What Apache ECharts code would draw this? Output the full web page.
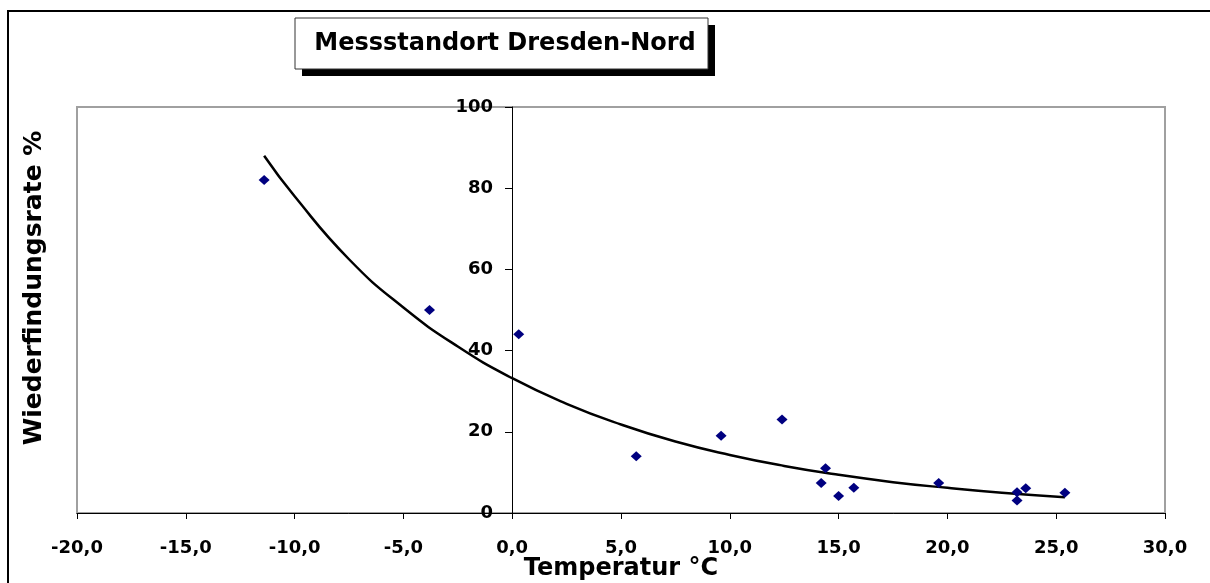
<!DOCTYPE html>
<html>
<head>
<meta charset="utf-8">
<title>Messstandort Dresden-Nord</title>
<script src="https://cdn.jsdelivr.net/npm/echarts@6/dist/echarts.min.js"></script>
<style>
  html, body { margin: 0; padding: 0; background: #fff; }
  #chart { width: 1210px; height: 583px; }
</style>
</head>
<body>
<div id="chart"></div>
<script>
// measured points (Temperatur °C / Wiederfindungsrate %)
const tempValues = [-11.4, -3.8, 0.3, 5.7, 9.6, 12.4, 14.2, 14.4, 15.0, 15.7, 19.6, 23.2, 23.2, 23.6, 25.4]
const rateValues = [82, 50, 44, 14, 19, 23, 7.4, 11, 4.2, 6.2, 7.4, 5.1, 3.1, 6.1, 5.0]

// trend line
const trendTemp = [-11.4, -10, -7.5, -5, -2.5, 0, 2.5, 5, 7.5, 10, 12.5, 15, 17.5, 20, 22.5, 25.4]
const trendRate = [88, 78, 62.5, 50.6, 41, 33.2, 26.9, 21.8, 17.6, 14.3, 11.6, 9.4, 7.6, 6.2, 5.0, 3.9]

const chartTitle = 'Messstandort Dresden-Nord'
const xName = 'Temperatur °C'
const yName = 'Wiederfindungsrate %'

const font = 'DejaVu Sans'
const chart = echarts.init(document.getElementById('chart'))

const zip = (a, b) => a.map((v, i) => [v, b[i]])

const gridLeft = 77
const gridRight = 45
// y axis sits on x = 0, which is 20 of 50 units into the plot
const yAxisShift = Math.round((1210 - gridLeft - gridRight) * 20 / 50)

const option = {
  animation: false,
  backgroundColor: '#fff',
  grid: {
    left: gridLeft,
    right: gridRight,
    top: 107,
    bottom: 70,
    outerBoundsMode: 'none',
    containLabel: false,
    show: true,
    borderColor: '#a0a0a0',
    borderWidth: 2,
    backgroundColor: 'transparent'
  },
  xAxis: {
    type: 'value',
    min: -20,
    max: 30,
    interval: 5,
    name: xName,
    nameLocation: 'middle',
    nameGap: 44,
    nameMoveOverlap: false,
    nameTextStyle: { fontFamily: font, fontWeight: 'bold', fontSize: 24, color: '#000' },
    axisLine: { onZero: false, lineStyle: { color: '#000', width: 1 } },
    axisTick: { inside: false, length: 6, lineStyle: { color: '#000' } },
    splitLine: { show: false },
    axisLabel: {
      margin: 26,
      fontFamily: font,
      fontWeight: 'bold',
      fontSize: 18,
      color: '#000',
      formatter: (v) => v.toFixed(1).replace('.', ',')
    }
  },
  yAxis: {
    type: 'value',
    min: 0,
    max: 100,
    interval: 20,
    offset: -yAxisShift,
    axisLine: { show: true, onZero: false, lineStyle: { color: '#000', width: 1 } },
    axisTick: { show: true, inside: false, length: 7, lineStyle: { color: '#000' } },
    splitLine: { show: false },
    axisLabel: {
      margin: 19,
      fontFamily: font,
      fontWeight: 'bold',
      fontSize: 18,
      color: '#000'
    }
  },
  graphic: [
    // outer frame
    {
      type: 'rect',
      shape: { x: 8, y: 11, width: 1400, height: 800 },
      style: { fill: 'none', stroke: '#000', lineWidth: 2 },
      silent: true,
      z: 0
    },
    // title box shadow
    {
      type: 'rect',
      shape: { x: 302, y: 25, width: 413, height: 51 },
      style: { fill: '#000' },
      silent: true,
      z: 10
    },
    // title box
    {
      type: 'rect',
      shape: { x: 295, y: 18, width: 413, height: 51 },
      style: { fill: '#fff', stroke: '#333', lineWidth: 1 },
      silent: true,
      z: 11
    },
    {
      type: 'text',
      x: 505,
      y: 44,
      style: {
        text: chartTitle,
        fontFamily: font,
        fontWeight: 'bold',
        fontSize: 24,
        fill: '#000',
        align: 'center',
        verticalAlign: 'middle'
      },
      z: 12
    },
    // y axis title
    {
      type: 'text',
      x: 34,
      y: 288,
      rotation: Math.PI / 2,
      style: {
        text: yName,
        fontFamily: font,
        fontWeight: 'bold',
        fontSize: 25,
        fill: '#000',
        align: 'center',
        verticalAlign: 'middle'
      },
      z: 12
    }
  ],
  series: [
    {
      name: 'Trend',
      type: 'line',
      data: zip(trendTemp, trendRate),
      smooth: true,
      showSymbol: false,
      symbol: 'none',
      lineStyle: { color: '#000', width: 2.5 },
      z: 3
    },
    {
      name: 'Messwerte',
      type: 'scatter',
      data: zip(tempValues, rateValues),
      symbol: 'diamond',
      symbolSize: [11, 10],
      itemStyle: { color: '#000080', opacity: 1 },
      z: 4
    }
  ]
}

chart.setOption(option)
</script>
</body>
</html>
